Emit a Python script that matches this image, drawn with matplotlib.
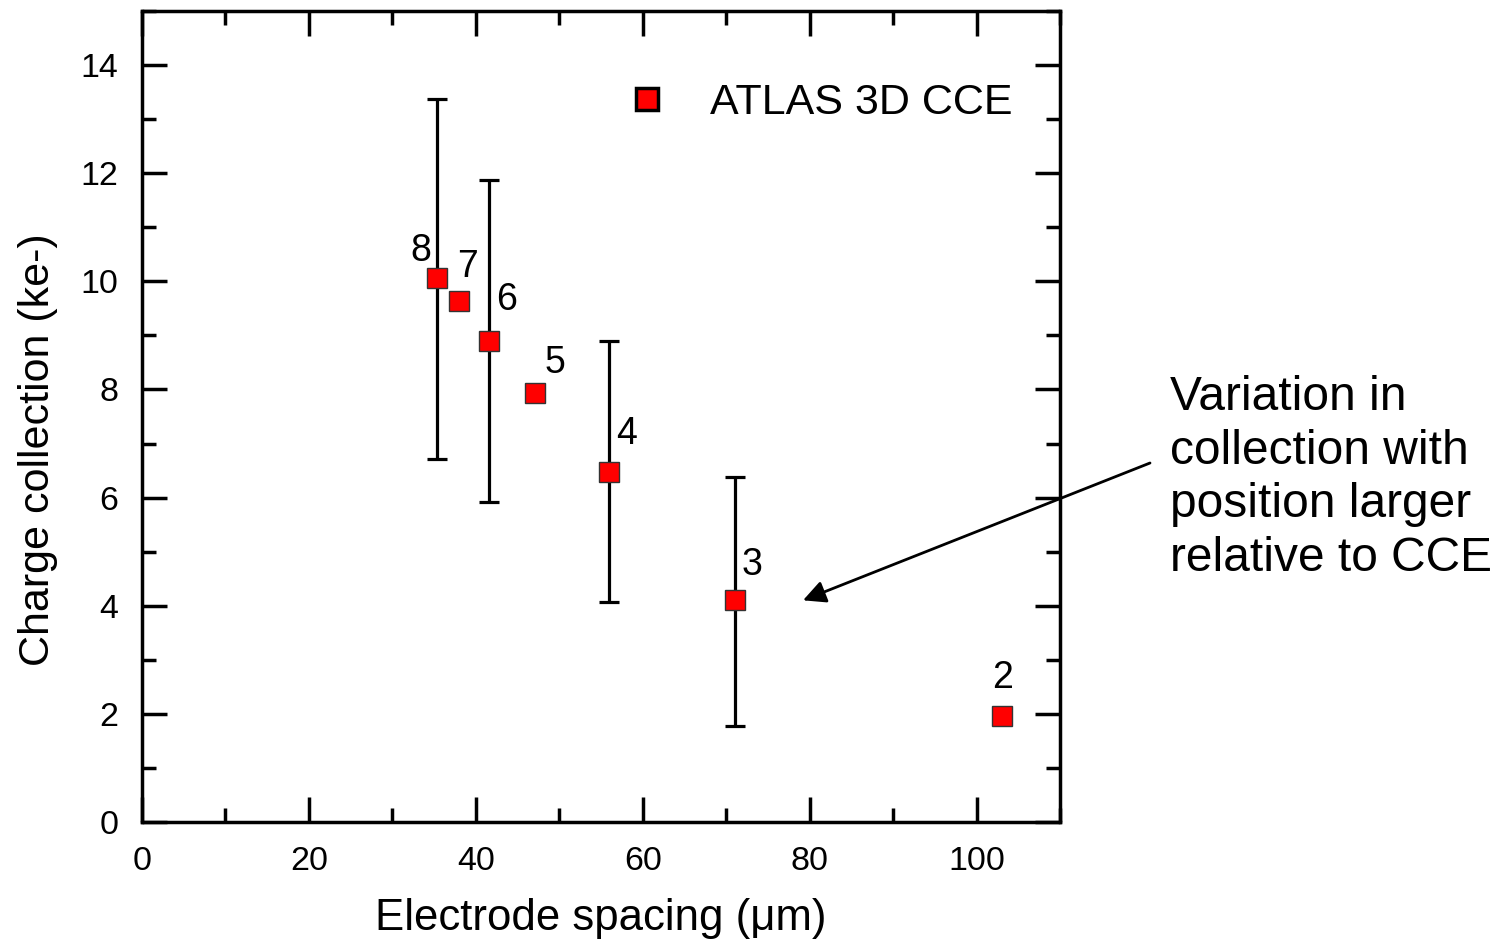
import matplotlib
matplotlib.use("Agg")
import matplotlib.pyplot as plt
from matplotlib.ticker import MultipleLocator

plt.rcParams["font.family"] = ["Liberation Sans", "DejaVu Sans"]

# datos
spacing = [35.3, 38.0, 41.6, 47.1, 55.9, 71.1, 103.0]
cce = [10.06, 9.63, 8.89, 7.93, 6.48, 4.10, 1.96]
etiquetas = ["8", "7", "6", "5", "4", "3", "2"]

# barras de error (solo algunos puntos)
err_x = [35.3, 41.6, 55.9, 71.1]
err_y = [10.06, 8.89, 6.48, 4.10]
err_bajo = [3.34, 2.97, 2.42, 2.33]
err_alto = [3.32, 2.99, 2.41, 2.28]

fig = plt.figure(figsize=(15.03, 9.39), dpi=100)
ax = fig.add_axes([0.0945, 0.1246, 0.6108, 0.8637])

ax.errorbar(err_x, err_y, yerr=[err_bajo, err_alto], fmt="none",
            ecolor="black", elinewidth=2.3, capsize=7, capthick=2.3, zorder=2)
ax.plot(spacing, cce, linestyle="none", marker="s", markersize=15,
        markerfacecolor="#ff0000", markeredgecolor="#333333",
        markeredgewidth=1, zorder=3, label="ATLAS 3D CCE")

# numeros junto a cada punto (desplazamiento en pixeles)
desplaz = {"8": (-16, 27), "7": (8, 34), "6": (17, 41), "5": (20, 30),
           "4": (18, 38), "3": (17, 35), "2": (1, 38)}
for x, y, t in zip(spacing, cce, etiquetas):
    dx, dy = desplaz[t]
    ax.annotate(t, (x, y), xytext=(dx, dy), textcoords="offset pixels",
                fontsize=27, ha="center", va="center")

ax.set_xlim(0, 110)
ax.set_ylim(0, 15)
ax.xaxis.set_major_locator(MultipleLocator(20))
ax.xaxis.set_minor_locator(MultipleLocator(10))
ax.yaxis.set_major_locator(MultipleLocator(2))
ax.yaxis.set_minor_locator(MultipleLocator(1))
ax.tick_params(which="both", direction="in", top=True, right=True,
               width=2.5, labelsize=24.5, pad=17)
ax.tick_params(which="major", length=18)
ax.tick_params(which="minor", length=10)
ax.set_yticks([0, 2, 4, 6, 8, 10, 12, 14])
for s in ax.spines.values():
    s.set_linewidth(2.5)

ax.set_xlabel("Electrode spacing (\u03bcm)", fontsize=31.5)
ax.set_ylabel("Charge collection (ke-)", fontsize=31)
ax.xaxis.set_label_coords(0.5, -0.094)
ax.yaxis.set_label_coords(-0.092, 0.459)

leg = ax.legend(loc="center right", bbox_to_anchor=(0.9477, 0.886),
                fontsize=31, frameon=False, handletextpad=0.45,
                borderpad=0, borderaxespad=0)
h = leg.legend_handles[0]
h.set_markeredgecolor("black")
h.set_markeredgewidth(2.5)
h.set_markersize(16)

ax.annotate("Variation in\ncollection with\nposition larger\nrelative to CCE",
            xy=(79.2, 4.1), xycoords="data",
            xytext=(1170, 939 - 478), textcoords="figure pixels",
            fontsize=34.5, ha="left", va="center", linespacing=1.24,
            annotation_clip=False)
ax.annotate("", xy=(79.2, 4.1), xycoords="data",
            xytext=(1150, 939 - 463), textcoords="figure pixels",
            arrowprops=dict(arrowstyle="-|>", color="black", lw=2,
                            mutation_scale=34, shrinkA=0, shrinkB=0),
            annotation_clip=False)

fig.savefig("out.png", dpi=100)
